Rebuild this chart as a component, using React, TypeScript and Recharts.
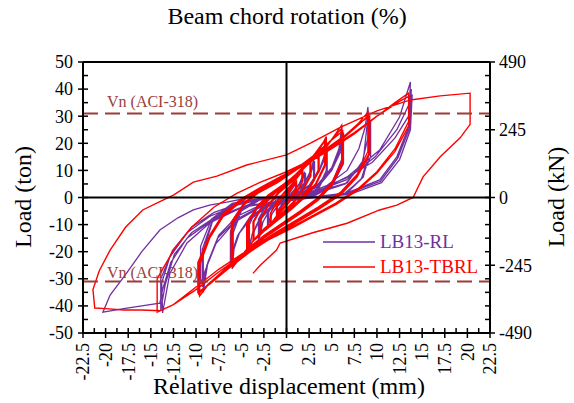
import {
  LineChart,
  Line,
  XAxis,
  YAxis,
  ReferenceLine,
  Legend,
  Label,
} from "recharts";

const FONT = '"Liberation Serif", "Times New Roman", serif';
const PURPLE = "#7030A0";
const RED = "#FF0000";
const VN_COLOR = "#9B3D3B";

// tick positions / labels
const dispMajor = [-22.5, -20, -17.5, -15, -12.5, -10, -7.5, -5, -2.5, 0, 2.5, 5, 7.5, 10, 12.5, 15, 17.5, 20, 22.5];
const dispMinor = [-21.25, -18.75, -16.25, -13.75, -11.25, -8.75, -6.25, -3.75, -1.25, 1.25, 3.75, 6.25, 8.75, 11.25, 13.75, 16.25, 18.75, 21.25];
const rotMajor = [-5, -4, -3, -2, -1, 0, 1, 2, 3, 4, 5];
const rotMinor = [-4.5, -3.5, -2.5, -1.5, -0.5, 0.5, 1.5, 2.5, 3.5, 4.5];
const tonMajor = [-50, -40, -30, -20, -10, 0, 10, 20, 30, 40, 50];
const tonMinor = [-45, -35, -25, -15, -5, 5, 15, 25, 35, 45];
const knMajor = [-490, -245, 0, 245, 490];
const knMinor = [-441, -392, -343, -294, -196, -147, -98, -49, 49, 98, 147, 196, 294, 343, 392, 441];

const vnLoad = 31; // ton

// LB13-RL  [displacement mm, load ton]
const rlSmall: [number, number][] = [
  [0, 0], [0.5, 2.5], [1.0, 5], [1.0, 2.5], [0.3, 0.3], [-0.5, -2.5], [-1.0, -5], [-1.0, -2.5], [-0.3, -0.3],
  [0.5, 2.8], [1.1, 5.5], [1.1, 2.5], [0.3, 0.2], [-0.5, -2.8], [-1.1, -5.5], [-1.1, -2.5], [-0.3, -0.2],
  [0.5, 1.5], [1.4, 5], [2.0, 9.5], [2.0, 5], [1.2, 1], [0, -0.5], [-1.0, -3], [-1.6, -6], [-2.0, -10], [-2.0, -5], [-1.2, -1], [0, 0.5],
  [0.6, 1.5], [1.5, 5], [2.1, 9], [2.1, 4.5], [1.2, 0.8], [0, -0.6], [-1.0, -3.2], [-1.7, -6.5], [-2.1, -10.5], [-2.1, -5], [-1.2, -1], [0, 0.5],
  [0.8, 1.5], [2.0, 5.5], [2.7, 10], [3.0, 14], [3.0, 7], [2.2, 2], [1.0, 0], [-0.5, -1], [-1.8, -4], [-2.6, -9], [-3.0, -15], [-3.0, -8], [-2.2, -2.5], [-1.0, 0],
  [0.8, 1.2], [2.0, 5], [2.8, 10], [3.1, 13.5], [3.1, 6.5], [2.2, 1.8], [1.0, 0], [-0.5, -1.2], [-1.8, -4.5], [-2.7, -9.5], [-3.1, -15.5], [-3.1, -8], [-2.2, -2.5], [-1.0, 0],
];
const rlMid: [number, number][] = [
  [1.0, 1.5], [2.5, 4.5], [3.6, 10], [4.2, 15.5], [4.4, 19.5], [4.4, 10], [3.5, 3.5], [2.0, 0.5], [0, -1.0], [-1.8, -3.5], [-3.0, -8], [-3.8, -13.5], [-4.1, -19.4], [-4.1, -10], [-3.2, -3.5], [-1.8, -0.5], [0, 0.3],
  [1.0, 1.2], [2.5, 4], [3.6, 9.5], [4.3, 15], [4.5, 18.5], [4.5, 9.5], [3.5, 3], [2.0, 0.3], [0, -1.2], [-1.8, -4], [-3.0, -8.5], [-3.8, -14], [-4.2, -18.5], [-4.2, -9.5], [-3.2, -3], [-1.8, -0.3], [0, 0.3],
  [1.5, 1.5], [3.5, 5], [5.0, 11], [5.8, 18], [6.1, 26], [6.1, 14], [5.0, 5], [3.0, 1], [0.5, -0.5], [-2.0, -2.5], [-4.0, -7], [-5.2, -13], [-5.8, -19], [-6.0, -26.4], [-6.0, -14], [-5.0, -5], [-3.0, -1], [-0.5, 0.3],
  [1.5, 1.2], [3.5, 4.5], [5.0, 10.5], [5.9, 17.5], [6.2, 25], [6.2, 13], [5.0, 4.5], [3.0, 0.8], [0.5, -0.7], [-2.0, -3], [-4.0, -7.5], [-5.3, -13.5], [-5.9, -19.5], [-6.1, -25.5], [-6.1, -13], [-5.0, -4.5], [-3.0, -0.8], [-0.5, 0.3],
  [1.5, 1], [3.5, 4], [5.0, 10], [6.0, 17], [6.3, 24], [6.3, 12.5], [5.0, 4], [3.0, 0.5], [0.5, -0.8], [-2.0, -3.2], [-4.0, -8], [-5.4, -14], [-6.0, -20], [-6.2, -24.5], [-6.2, -12.5], [-5.0, -4], [-3.0, -0.6], [-0.5, 0.3],
];
const rlLarge: [number, number][] = [
  [2.0, 1], [4.5, 4.5], [6.7, 10], [8.0, 18], [8.7, 26], [9.0, 33.4], [9.2, 17.5], [8.5, 7.6], [6.7, 1.7], [3.0, 0.2], [0, -1], [-3.0, -3], [-5.5, -7], [-7.5, -14], [-8.7, -24], [-9.2, -35], [-9.2, -20], [-8.2, -9], [-6.0, -3], [-3.0, -0.5], [0, 0.5],
  [2.9, 1.7], [6.7, 5.4], [8.5, 13.8], [9.0, 29.7], [9.1, 16], [8.3, 7], [6.5, 1.5], [3.0, 0], [0, -1.2], [-3.0, -3.5], [-5.5, -8], [-7.6, -15], [-8.8, -25], [-9.3, -33], [-9.3, -19], [-8.2, -8.5], [-6.0, -2.5], [-3.0, -0.3], [-0.7, 0.5],
  [3.0, 1.2], [6.5, 5], [8.3, 12], [9.0, 22], [9.3, 28.5], [9.3, 15], [8.2, 6.5], [6.3, 1.2], [3.0, 0], [0, -1.3], [-3.0, -3.8], [-5.7, -9], [-7.8, -17], [-9.0, -27], [-9.5, -32], [-9.5, -18], [-8.3, -8], [-6.0, -2.2], [-3.0, -0.3], [-0.7, 0.5],
  [3.0, 1.5], [6.7, 7.6], [10.3, 17.5], [12.5, 29.7], [13.7, 42.6], [13.5, 26], [12.2, 15], [10.3, 6.5], [6.7, 1.7], [3.0, 0], [0, -1], [-4.8, -3.5], [-8.5, -9.4], [-11.0, -16.8], [-12.9, -28], [-13.7, -42.6], [-13.8, -31.5], [-12.9, -22], [-11.0, -13], [-8.5, -7], [-5.5, -2.8], [-2.5, -0.5], [0, 0.5],
  [3.0, 2], [6.6, 6.5], [9.8, 15], [12.2, 25], [13.5, 34], [13.8, 40], [13.6, 25.5], [12.3, 14.5], [10.4, 6], [6.8, 1.5], [3.0, 0], [0, -1], [-4.5, -3], [-8.0, -7.5], [-10.5, -13], [-12.4, -21], [-13.4, -32], [-13.9, -41.5], [-13.9, -30], [-12.6, -19.5], [-10.5, -11], [-8.0, -5.5], [-5.0, -2], [-2.5, -0.3], [0, 0.5],
  [3.0, 2.5], [6.5, 7], [9.5, 13], [12.0, 22], [13.5, 30], [13.9, 38], [13.7, 25], [12.5, 14], [10.5, 5.5], [7.0, 1.2], [3.0, 0], [0, -1], [-4.8, -3.5], [-8.5, -9], [-11.0, -15], [-12.8, -24], [-13.7, -34], [-14.0, -39], [-16.0, -40], [-18.0, -41], [-20.3, -42.3], [-19.5, -36], [-17.7, -28], [-16.0, -20], [-14.0, -12], [-12.0, -7.5], [-10.3, -4.6], [-8.5, -2.8], [-6.6, -1.7], [-4.4, -0.2],
];

// LB13-TBRL  [displacement mm, load ton]
const tbrlSmall: [number, number][] = [
  [0, 0], [0.5, 3], [1.0, 5.5], [1.0, 3], [0.4, 0], [-0.3, -2.5], [-1.0, -5.5], [-1.0, -3], [-0.4, 0],
  [0.3, 2.5], [1.1, 6], [1.1, 3], [0.4, -0.2], [-0.3, -2.8], [-1.1, -6], [-1.1, -3], [-0.4, 0.2],
  [0.3, 3], [1.0, 6.5], [1.7, 9.5], [1.7, 5.5], [1.0, 1.5], [0.3, -1.5], [-0.8, -5.5], [-1.7, -9.5], [-1.7, -5.5], [-1.0, -1.5], [-0.3, 1.5],
  [0.5, 4], [1.2, 7.5], [1.8, 10], [1.8, 6], [1.1, 1.5], [0.3, -1.8], [-0.8, -6], [-1.8, -10], [-1.8, -6], [-1.1, -1.5], [-0.3, 1.8],
  [0.6, 5], [1.7, 10], [2.6, 13], [2.6, 8], [1.8, 3], [0.8, -1.5], [-0.6, -6], [-1.8, -10], [-2.8, -13], [-2.8, -8], [-2.0, -3], [-0.9, 1.5],
  [0.5, 5.5], [1.8, 10.5], [2.7, 13.5], [2.7, 8], [1.8, 2.5], [0.8, -2], [-0.6, -6.5], [-1.9, -10.5], [-2.9, -13.5], [-2.9, -8], [-2.0, -2.5], [-0.9, 2],
  [0.5, 6], [2.0, 11.5], [3.5, 17.5], [3.5, 10], [2.6, 4], [1.2, -1.5], [-0.6, -6.5], [-2.2, -11], [-3.6, -15.5], [-3.6, -9], [-2.7, -3.5], [-1.3, 1.5],
  [0.4, 6.5], [2.1, 12], [3.6, 18], [3.6, 10], [2.6, 3.5], [1.2, -2], [-0.6, -7], [-2.3, -11.5], [-3.7, -16], [-3.7, -9], [-2.7, -3], [-1.3, 2],
];
const tbrlMid: [number, number][] = [
  [0, 5.5], [1.5, 10], [3.0, 15.5], [4.2, 21], [4.2, 12], [3.2, 5], [2.0, 0.5], [0.5, -3.5], [-1.0, -7.5], [-2.5, -11.5], [-3.6, -15.5], [-4.2, -19], [-4.2, -9], [-3.2, -3.5], [-2.0, 0],
  [-0.5, 3.5], [1.0, 8], [2.5, 13], [3.6, 17.5], [4.3, 21.5], [4.3, 12], [3.3, 5], [2.0, 0], [0.5, -4], [-1.0, -8], [-2.5, -12], [-3.7, -16], [-4.3, -19.5], [-4.3, -9], [-3.2, -3], [-2.0, 0.5],
  [-0.5, 4], [1.0, 8.5], [2.5, 13.5], [3.7, 18], [4.4, 22.5], [4.4, 12.5], [3.3, 5], [2.0, 0], [0.5, -4.5], [-1.0, -8.5], [-2.5, -12.5], [-3.8, -16.5], [-4.4, -20], [-4.4, -9.5], [-3.2, -3], [-2.0, 1],
  [-0.5, 4.5], [1.5, 9.5], [3.0, 14], [4.5, 19], [6.1, 26.7], [6.1, 13], [5.0, 5.5], [3.5, 0], [1.5, -5], [-0.5, -9.5], [-2.5, -14], [-4.5, -19.5], [-5.9, -25.6], [-5.9, -9.4], [-4.8, -3], [-3.2, 1.5],
  [-1.0, 5.5], [1.0, 10], [3.0, 15], [4.8, 20.5], [6.1, 25.5], [6.1, 13], [5.0, 5], [3.5, -0.5], [1.5, -5.5], [-0.5, -10], [-2.5, -14.5], [-4.5, -20], [-6.0, -25], [-6.0, -9], [-4.8, -2.5], [-3.2, 2],
  [-1.0, 6], [1.0, 10.5], [3.0, 15.5], [4.9, 21], [6.2, 24.5], [6.2, 12.5], [5.0, 4.5], [3.5, -1], [1.5, -6], [-0.5, -10.5], [-2.5, -15], [-4.5, -20.5], [-6.1, -24.5], [-6.1, -9], [-4.8, -2.5], [-3.2, 2.5],
];
const tbrlLarge: [number, number][] = [
  [-1.5, 5.5], [1.0, 10], [3.5, 15.5], [6.0, 21.5], [8.0, 27.5], [9.0, 31.5], [9.0, 17], [7.8, 8.5], [6.0, 2], [3.5, -3.5], [1.0, -8.5], [-1.5, -13.5], [-4.0, -19], [-6.5, -25.5], [-8.5, -31.5], [-9.6, -36.3], [-9.6, -25], [-8.5, -15], [-7.0, -7], [-5.0, -1.5], [-3.0, 2.5],
  [-1.0, 6.5], [1.5, 11], [4.0, 16.5], [6.5, 22.5], [8.2, 27.5], [9.1, 30.5], [9.1, 16], [7.8, 8], [6.0, 1.5], [3.5, -4], [1.0, -9], [-1.5, -14], [-4.0, -19.5], [-6.5, -26], [-8.5, -31.5], [-9.7, -35.5], [-9.7, -24.5], [-8.5, -14.5], [-7.0, -6.5], [-5.0, -1], [-3.0, 3],
  [-1.0, 7], [1.5, 11.5], [4.0, 17], [6.5, 23], [8.3, 28], [9.2, 30], [9.2, 16], [7.8, 7.5], [6.0, 1], [3.5, -4.5], [1.0, -9.5], [-1.5, -14.5], [-4.0, -20], [-6.5, -26.5], [-8.5, -32], [-9.8, -35], [-9.8, -24], [-8.5, -14], [-7.0, -6], [-5.0, -0.5], [-3.0, 3.5],
  [-0.5, 8], [2.5, 13], [5.0, 18], [7.5, 23.5], [10.0, 30], [12.0, 35], [13.5, 38.5], [13.5, 28], [12.0, 18], [10.0, 9.5], [8.0, 3.5], [5.5, -2], [3.0, -6.5], [0.5, -11], [-2.5, -16], [-5.0, -21], [-7.5, -26.5], [-10.0, -33], [-12.5, -39.5], [-14.3, -42.3], [-14.3, -30], [-12.5, -19.5], [-10.5, -11], [-8.0, -3.5], [-5.5, 1.5], [-3.0, 5.5],
  [0, 9.5], [2.5, 13.5], [5.0, 18.5], [7.5, 24], [10.0, 30], [12.5, 35.5], [13.6, 37.5], [13.6, 27], [12.0, 17], [10.0, 9], [8.0, 3], [5.5, -2.5], [3.0, -7], [0.5, -11.5], [-2.5, -16.5], [-5.0, -21.5], [-7.5, -27.5], [-10.0, -34], [-12.5, -39.5], [-14.0, -41.8],
  [-16.0, -41.5], [-18.0, -41.5], [-20.0, -41], [-21.2, -40.8], [-21.4, -34], [-20.7, -27], [-19.5, -19.4], [-17.8, -11], [-15.9, -4.6], [-14.0, -1.5], [-12.5, 0.9], [-10.3, 5.7], [-7.7, 7.9], [-4.4, 12], [0, 15.7], [2.6, 20], [6.0, 26], [10.0, 32], [13.7, 36], [17.0, 37.5], [20.3, 38.5],
  [20.3, 27], [19.2, 22], [17.0, 15], [15.1, 7.6], [14.0, 0], [12.2, -2.8], [10.3, -4.6], [6.7, -9.5], [2.9, -13], [-0.7, -16.8], [-1.1, -19.4], [-2.9, -25], [-3.7, -28],
];

const toRows = (path: [number, number][]) => path.map(([d, load]) => ({ d, load }));
const rlData = toRows([...rlSmall, ...rlMid, ...rlLarge]);
const tbrlData = toRows([...tbrlSmall, ...tbrlMid, ...tbrlLarge]);

const textStyle = { fontFamily: FONT, fill: "#000" };

function LeftTick({ x, y, payload }: any) {
  const major = tonMajor.includes(payload.value);
  return (
    <g>
      <line x1={major ? x - 5 : x} x2={x + 5} y1={y} y2={y} stroke="#000" strokeWidth={1.5} />
      {major && (
        <text x={x - 10} y={y} dy="0.35em" textAnchor="end" fontSize={18} style={textStyle}>
          {payload.value}
        </text>
      )}
    </g>
  );
}

function RightTick({ x, y, payload }: any) {
  const major = knMajor.includes(payload.value);
  return (
    <g>
      <line x1={x - 5} x2={major ? x + 5 : x} y1={y} y2={y} stroke="#000" strokeWidth={1.5} />
      {major && (
        <text x={x + 9} y={y} dy="0.35em" textAnchor="start" fontSize={18} style={textStyle}>
          {payload.value}
        </text>
      )}
    </g>
  );
}

function BottomTick({ x, y, payload }: any) {
  const major = dispMajor.includes(payload.value);
  return (
    <g>
      <line x1={x} x2={x} y1={y - 5} y2={major ? y + 5 : y} stroke="#000" strokeWidth={1.5} />
      {major && (
        <text
          transform={`translate(${x},${y + 10}) rotate(-90)`}
          dy="0.35em"
          textAnchor="end"
          fontSize={18}
          style={textStyle}
        >
          {payload.value}
        </text>
      )}
    </g>
  );
}

function TopTick({ x, y, payload }: any) {
  const major = rotMajor.includes(payload.value);
  return (
    <g>
      <line x1={x} x2={x} y1={major ? y - 5 : y} y2={y + 5} stroke="#000" strokeWidth={1.5} />
      {major && (
        <text x={x} y={y - 14} textAnchor="middle" fontSize={18} style={textStyle}>
          {payload.value}
        </text>
      )}
    </g>
  );
}

function LegendBox({ payload }: any) {
  return (
    <div style={{ fontFamily: FONT }}>
      {(payload || []).map((p: any) => (
        <div key={p.value} style={{ display: "flex", alignItems: "center", height: 25 }}>
          <svg width={52} height={4} style={{ display: "block" }}>
            <line x1={0} x2={52} y1={2} y2={2} stroke={p.color} strokeWidth={1.5} />
          </svg>
          <span style={{ marginLeft: 5, color: p.color, fontSize: 19, lineHeight: "25px" }}>{p.value}</span>
        </div>
      ))}
    </div>
  );
}

const vnLabel = (dy: number) => ({ viewBox }: any) => (
  <text x={viewBox.x + 24} y={viewBox.y + dy} fontSize={16} style={{ fontFamily: FONT, fill: VN_COLOR }}>
    Vn (ACI-318)
  </text>
);

export default function App() {
  return (
    <div style={{ position: "absolute", left: 0, top: 0, background: "#fff" }}>
      <LineChart width={574} height={403} margin={{ top: 0, right: 0, bottom: 0, left: 0 }}>
        <XAxis
          xAxisId="bottom"
          dataKey="d"
          type="number"
          domain={[-22.5, 22.5]}
          allowDataOverflow
          ticks={[...dispMajor, ...dispMinor]}
          interval={0}
          height={70}
          tickSize={0}
          tickMargin={0}
          tickLine={false}
          tick={<BottomTick />}
          axisLine={{ stroke: "#000", strokeWidth: 2 }}
        >
          <Label
            content={() => (
              <text x={289} y={394} textAnchor="middle" fontSize={24} style={textStyle}>
                Relative displacement (mm)
              </text>
            )}
          />
        </XAxis>
        <XAxis
          xAxisId="top"
          orientation="top"
          type="number"
          domain={[-5, 5]}
          allowDataOverflow
          ticks={[...rotMajor, ...rotMinor]}
          interval={0}
          height={62}
          tickSize={0}
          tickMargin={0}
          tickLine={false}
          tick={<TopTick />}
          axisLine={{ stroke: "#000", strokeWidth: 2 }}
        >
          <Label
            content={() => (
              <text x={287} y={24} textAnchor="middle" fontSize={24} style={textStyle}>
                Beam chord rotation (%)
              </text>
            )}
          />
        </XAxis>
        <YAxis
          yAxisId="left"
          type="number"
          domain={[-50, 50]}
          allowDataOverflow
          ticks={[...tonMajor, ...tonMinor]}
          interval={0}
          width={83}
          tickSize={0}
          tickMargin={0}
          tickLine={false}
          tick={<LeftTick />}
          axisLine={{ stroke: "#000", strokeWidth: 2 }}
        >
          <Label
            content={() => (
              <text transform="translate(31,197) rotate(-90)" textAnchor="middle" fontSize={24} style={textStyle}>
                Load (ton)
              </text>
            )}
          />
        </YAxis>
        <YAxis
          yAxisId="right"
          orientation="right"
          type="number"
          domain={[-490, 490]}
          allowDataOverflow
          ticks={[...knMajor, ...knMinor]}
          interval={0}
          width={84}
          tickSize={0}
          tickMargin={0}
          tickLine={false}
          tick={<RightTick />}
          axisLine={{ stroke: "#000", strokeWidth: 2 }}
        >
          <Label
            content={() => (
              <text transform="translate(564,197) rotate(-90)" textAnchor="middle" fontSize={24} style={textStyle}>
                Load (kN)
              </text>
            )}
          />
        </YAxis>

        <Line
          xAxisId="bottom"
          yAxisId="left"
          data={rlData}
          dataKey="load"
          name="LB13-RL"
          type="linear"
          stroke={PURPLE}
          strokeWidth={1.3}
          dot={false}
          activeDot={false}
          isAnimationActive={false}
        />
        <Line
          xAxisId="bottom"
          yAxisId="left"
          data={tbrlData}
          dataKey="load"
          name="LB13-TBRL"
          type="linear"
          stroke={RED}
          strokeWidth={1.4}
          dot={false}
          activeDot={false}
          isAnimationActive={false}
        />

        <ReferenceLine xAxisId="bottom" yAxisId="left" y={vnLoad} stroke={VN_COLOR} strokeWidth={2} strokeDasharray="15 7" label={vnLabel(-6)} />
        <ReferenceLine xAxisId="bottom" yAxisId="left" y={-vnLoad} stroke={VN_COLOR} strokeWidth={2} strokeDasharray="15 7" label={vnLabel(-4)} />
        <ReferenceLine xAxisId="bottom" yAxisId="left" y={0} stroke="#000" strokeWidth={2} />
        <ReferenceLine xAxisId="bottom" yAxisId="left" x={0} stroke="#000" strokeWidth={2} />

        <Legend
          layout="vertical"
          align="center"
          verticalAlign="middle"
          wrapperStyle={{ left: 323, top: 229, width: 180 }}
          content={<LegendBox />}
        />
      </LineChart>
    </div>
  );
}
